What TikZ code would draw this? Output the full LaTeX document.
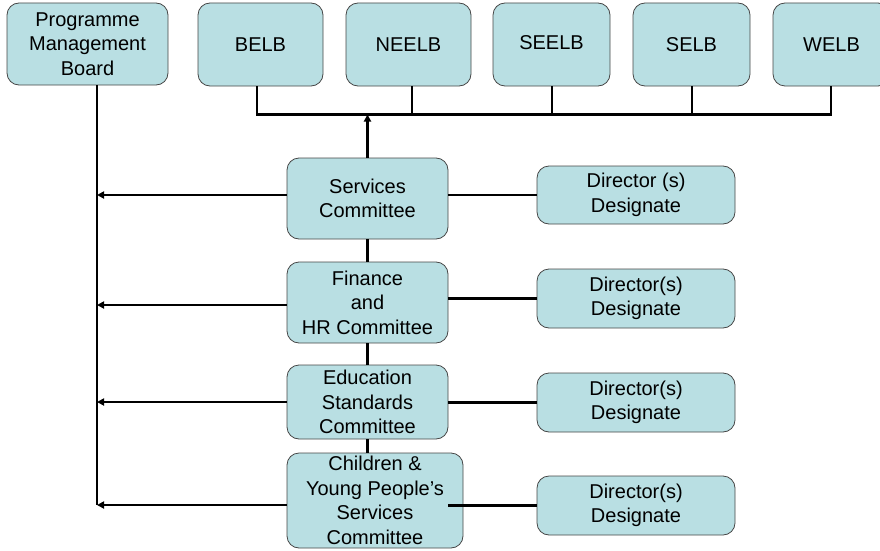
\documentclass[tikz,border=0pt]{standalone}
\usepackage{fontspec}
\setmainfont{Liberation Sans}
\usetikzlibrary{arrows.meta}
\definecolor{boxfill}{RGB}{185,223,227}
\definecolor{boxline}{RGB}{70,70,70}
\begin{document}
\begin{tikzpicture}[x=1pt,y=-1pt,
  box/.style={draw=boxline,line width=0.8pt,fill=boxfill,rounded corners=12pt,
    inner sep=0pt,align=center,font=\fontsize{20}{24.5}\selectfont},
  conn/.style={line width=2.8pt},
  arr/.style={line width=2.8pt,-{Triangle[length=7pt,width=7pt]}}]
\path[use as bounding box] (0,0) rectangle (880,551);
\clip (0,0) rectangle (880,551);
% top row
\node[box,minimum width=161pt,minimum height=82pt] (pmb) at (87.5,44) {Programme\\Management\\Board};
\node[box,minimum width=125pt,minimum height=83pt] (belb) at (260.5,44.5) {BELB};
\node[box,minimum width=125pt,minimum height=83pt] (neelb) at (408.5,44.5) {NEELB};
\node[box,minimum width=117pt,minimum height=83pt] (seelb) at (551.5,44.5) {\raisebox{4pt}{SEELB}};
\node[box,minimum width=117pt,minimum height=83pt] (selb) at (691.5,44.5) {SELB};
\node[box,minimum width=117pt,minimum height=83pt] (welb) at (831.5,44.5) {WELB};
% committees
\node[box,minimum width=161pt,minimum height=81pt] (serv) at (367.5,198.5) {Services\\Committee};
\node[box,minimum width=161pt,minimum height=81pt] (fin) at (367.5,302.5) {Finance\\and\\HR Committee};
\node[box,minimum width=161pt,minimum height=74pt] (edu) at (367.5,402) {Education\\Standards\\Committee};
\node[box,minimum width=176pt,minimum height=95pt] (child) at (375,500.5) {Children \&\\Young People’s\\Services\\Committee};
% directors
\node[box,minimum width=198pt,minimum height=58pt] (dir1) at (636,195) {Director (s)\\Designate};
\node[box,minimum width=198pt,minimum height=59pt] (dir2) at (636,298.5) {Director(s)\\Designate};
\node[box,minimum width=198pt,minimum height=59pt] (dir3) at (636,402.5) {Director(s)\\Designate};
\node[box,minimum width=198pt,minimum height=59pt] (dir4) at (636,505.5) {Director(s)\\Designate};
% bus
\coordinate (b1) at (257,114.5);
\coordinate (b2) at (412,114.5);
\coordinate (b3) at (552,114.5);
\coordinate (b4) at (692,114.5);
\coordinate (b5) at (831,114.5);
\draw[conn] (belb.south -| b1) -- (b1) -- (b5) -- (welb.south -| b5);
\draw[conn] (neelb.south -| b2) -- (b2);
\draw[conn] (seelb.south -| b3) -- (b3);
\draw[conn] (selb.south -| b4) -- (b4);
\draw[arr] (serv.north) -- (serv.north |- b1);
% chain
\draw[conn] (serv.south) -- (fin.north);
\draw[conn] (fin.south) -- (edu.north);
\draw[conn] (edu.south) -- (edu.south |- child.north);
% PMB line
\coordinate (pv) at (97,505);
\draw[conn] (pmb.south -| pv) -- (pv);
\draw[arr] ([yshift=3.5pt]serv.west) -- ([yshift=3.5pt]serv.west -| pv);
\draw[arr] ([yshift=-2.5pt]fin.west) -- ([yshift=-2.5pt]fin.west -| pv);
\draw[arr] (edu.west) -- (edu.west -| pv);
\draw[arr] ([yshift=-4.5pt]child.west) -- ([yshift=-4.5pt]child.west -| pv);
% director links
\draw[conn] (serv.east |- dir1.west) -- (dir1.west);
\draw[conn] (fin.east |- dir2.west) -- (dir2.west);
\draw[conn] (edu.east |- dir3.west) -- (dir3.west);
\draw[conn] (serv.east |- dir4.west) -- (dir4.west);
\end{tikzpicture}
\end{document}
